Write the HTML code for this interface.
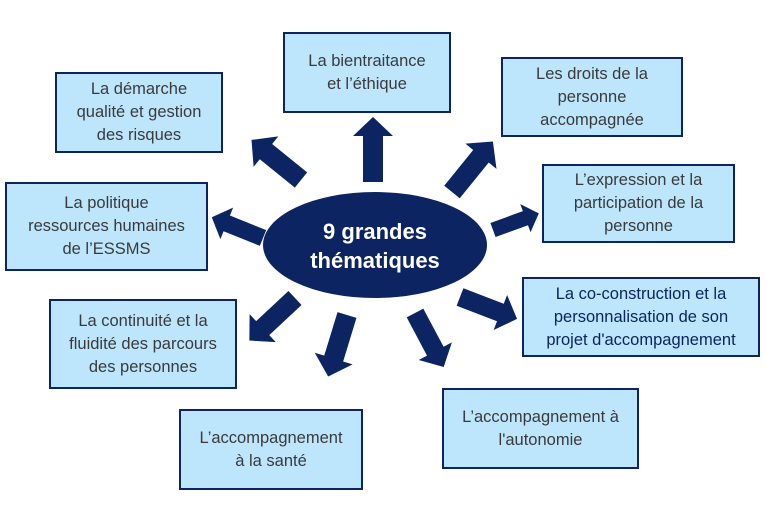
<!DOCTYPE html>
<html><head><meta charset="utf-8"><style>
body{margin:0;width:767px;height:505px;background:#fff;position:relative;overflow:hidden;font-family:"Liberation Sans",sans-serif}
.b{position:absolute;background:#bde6fd;border:2px solid #0c2461;box-sizing:border-box;display:flex;align-items:center;justify-content:center;text-align:center;font-size:16.5px;line-height:23px;color:#3a3a3a}
svg{position:absolute;left:0;top:0}
</style></head><body>
<svg width="767" height="505">
<defs><polygon id="a" points="0,-10 46,-10 46,-20 65,0 46,20 46,10 0,10" fill="#0c2461"/></defs>
<use href="#a" transform="translate(373,182) rotate(-90)"/>
<use href="#a" transform="translate(301,180) rotate(-141) scale(0.98)"/>
<use href="#a" transform="translate(452,192) rotate(-51) scale(1)"/>
<use href="#a" transform="translate(263,238) rotate(-158) scale(0.85)"/>
<use href="#a" transform="translate(493,230) rotate(-20) scale(0.75)"/>
<use href="#a" transform="translate(460,297) rotate(21) scale(0.94)"/>
<use href="#a" transform="translate(295,298) rotate(137) scale(0.96)"/>
<use href="#a" transform="translate(347,315) rotate(107) scale(0.99)"/>
<use href="#a" transform="translate(415,313) rotate(62) scale(0.94)"/>
<ellipse cx="375" cy="245" rx="112" ry="53" fill="#0c2461"/>
<text x="375" y="239" text-anchor="middle" fill="#fff" font-family="Liberation Sans" font-weight="bold" font-size="22">9 grandes</text>
<text x="375" y="268" text-anchor="middle" fill="#fff" font-family="Liberation Sans" font-weight="bold" font-size="22">thématiques</text>
</svg>
<div class="b" style="left:283px;top:32px;width:168px;height:81px">La bientraitance<br>et l’éthique</div>
<div class="b" style="left:501px;top:57px;width:182px;height:80px">Les droits de la<br>personne<br>accompagnée</div>
<div class="b" style="left:542px;top:164px;width:193px;height:79px">L’expression et la<br>participation de la<br>personne</div>
<div class="b" style="left:522px;top:277px;width:238px;height:80px;color:#0c2461">La co-construction et la<br>personnalisation de son<br>projet d'accompagnement</div>
<div class="b" style="left:442px;top:388px;width:197px;height:81px">L’accompagnement à<br>l'autonomie</div>
<div class="b" style="left:179px;top:409px;width:184px;height:81px">L’accompagnement<br>à la santé</div>
<div class="b" style="left:49px;top:299px;width:188px;height:90px">La continuité et la<br>fluidité des parcours<br>des personnes</div>
<div class="b" style="left:5px;top:182px;width:203px;height:89px">La politique<br>ressources humaines<br>de l’ESSMS</div>
<div class="b" style="left:55px;top:72px;width:168px;height:81px">La démarche<br>qualité et gestion<br>des risques</div>
</body></html>
